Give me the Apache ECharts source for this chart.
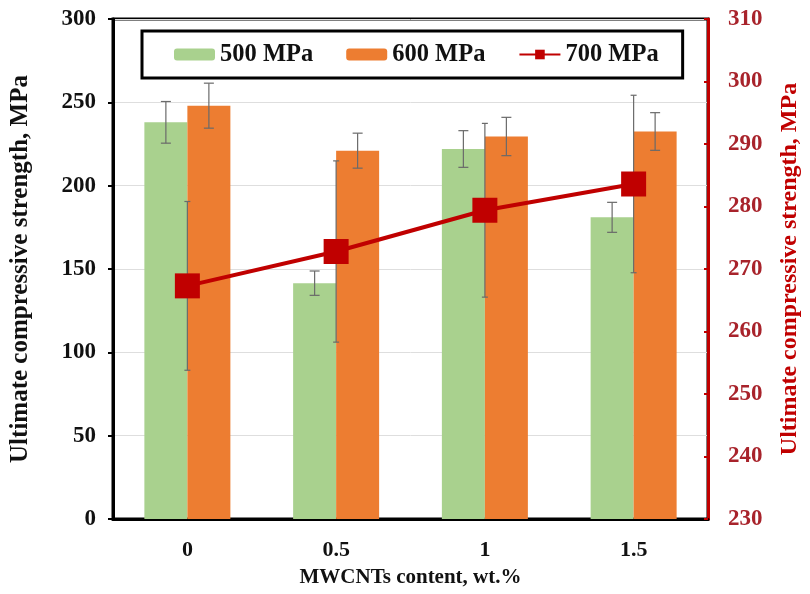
<!DOCTYPE html>
<html>
<head>
<meta charset="utf-8">
<script src="https://cdn.jsdelivr.net/npm/echarts@6/dist/echarts.min.js"></script>
<style>html,body{margin:0;padding:0;background:#fff;}#c{width:810px;height:594px;}</style>
</head>
<body>
<div id="c"></div>
<script>
const categories = ['0', '0.5', '1', '1.5'];
const s500 = [238, 141.5, 222, 181];
const s500err = [12.5, 7.3, 11, 9];
const s600 = [248, 221, 229.5, 232.5];
const s600err = [13.5, 10.5, 11.5, 11.3];
const s700 = [267.3, 272.8, 279.4, 283.6];
const s700err = [13.5, 14.5, 13.9, 14.2];
const leftTicks = {min: 0, max: 300, interval: 50};
const rightTicks = {min: 230, max: 310, interval: 10};

const FONT = '"Liberation Serif", "Times New Roman", serif';
const BAR_W = 43;

function errData(vals, errs) {
  return vals.map((v, i) => [i, v - errs[i], v + errs[i]]);
}
function errRender(offset, capHalf) {
  return function (params, api) {
    const i = api.value(0);
    const lo = api.coord([i, api.value(1)]);
    const hi = api.coord([i, api.value(2)]);
    const x = lo[0] + offset;
    const st = {stroke: '#6a6a6a', lineWidth: 1.2};
    return {
      type: 'group',
      children: [
        {type: 'line', shape: {x1: x, y1: lo[1], x2: x, y2: hi[1]}, style: st},
        {type: 'line', shape: {x1: x - capHalf, y1: lo[1], x2: x + capHalf, y2: lo[1]}, style: st},
        {type: 'line', shape: {x1: x - capHalf, y1: hi[1], x2: x + capHalf, y2: hi[1]}, style: st}
      ]
    };
  };
}

const chart = echarts.init(document.getElementById('c'), null, {renderer: 'canvas'});
chart.setOption({
  animation: false,
  backgroundColor: '#ffffff',
  textStyle: {fontFamily: FONT},
  grid: {left: 112, right: 97, top: 19, bottom: 75, show: true, borderColor: '#000', borderWidth: 3, backgroundColor: 'transparent'},
  legend: {
    data: ['500 MPa', '600 MPa', '700 MPa'],
    left: 142, top: 31,
    padding: [11, 24, 11, 32],
    itemGap: 33,
    itemWidth: 41, itemHeight: 12,
    borderColor: '#000', borderWidth: 3,
    textStyle: {fontFamily: FONT, fontWeight: 'bold', fontSize: 24.5, color: '#111'}
  },
  xAxis: {
    type: 'category',
    data: categories,
    name: 'MWCNTs content, wt.%',
    nameLocation: 'middle',
    nameGap: 48,
    nameTextStyle: {fontFamily: FONT, fontWeight: 'bold', fontSize: 21, color: '#111'},
    axisLine: {lineStyle: {color: '#000', width: 3}},
    axisTick: {alignWithLabel: true, length: 3, lineStyle: {color: '#000', width: 2}},
    axisLabel: {fontFamily: FONT, fontWeight: 'bold', fontSize: 22, color: '#111', margin: 20}
  },
  yAxis: [
    {
      type: 'value', min: leftTicks.min, max: leftTicks.max, interval: leftTicks.interval,
      name: 'Ultimate compressive strength, MPa',
      nameLocation: 'middle', nameGap: 80,
      nameTextStyle: {fontFamily: FONT, fontWeight: 'bold', fontSize: 25, color: '#111'},
      axisLine: {show: true, lineStyle: {color: '#000', width: 3}},
      axisTick: {show: true, length: 5, lineStyle: {color: '#000', width: 2}},
      axisLabel: {fontFamily: FONT, fontWeight: 'bold', fontSize: 23, color: '#111', margin: 17},
      splitLine: {show: true, lineStyle: {color: '#dedede', width: 1}}
    },
    {
      type: 'value', min: rightTicks.min, max: rightTicks.max, interval: rightTicks.interval,
      position: 'right',
      name: 'Ultimate compressive strength, MPa',
      nameLocation: 'middle', nameGap: 70, nameRotate: 90,
      nameTextStyle: {fontFamily: FONT, fontWeight: 'bold', fontSize: 24, color: '#C00000'},
      axisLine: {show: true, lineStyle: {color: '#C00000', width: 3}},
      axisTick: {show: true, inside: true, length: 4, lineStyle: {color: '#C00000', width: 2}},
      axisLabel: {fontFamily: FONT, fontWeight: 'bold', fontSize: 23, color: '#A8232B', margin: 20},
      splitLine: {show: false}
    }
  ],
  series: [
    {name: '500 MPa', type: 'bar', data: s500, barWidth: BAR_W, barGap: '0%', itemStyle: {color: '#A9D18E'}},
    {name: '600 MPa', type: 'bar', data: s600, barWidth: BAR_W, barGap: '0%', itemStyle: {color: '#ED7D31'}},
    {name: 'err500', type: 'custom', data: errData(s500, s500err), renderItem: errRender(-BAR_W / 2, 5), z: 3, silent: true},
    {name: 'err600', type: 'custom', data: errData(s600, s600err), renderItem: errRender(BAR_W / 2, 5), z: 3, silent: true},
    {name: 'err700', type: 'custom', yAxisIndex: 1, data: errData(s700, s700err), renderItem: errRender(0, 3), z: 3, silent: true},
    {name: '700 MPa', type: 'line', yAxisIndex: 1, data: s700, symbol: 'rect', symbolSize: 25,
      lineStyle: {color: '#C00000', width: 4}, itemStyle: {color: '#C00000'}, z: 5}
  ]
});
</script>
</body>
</html>
